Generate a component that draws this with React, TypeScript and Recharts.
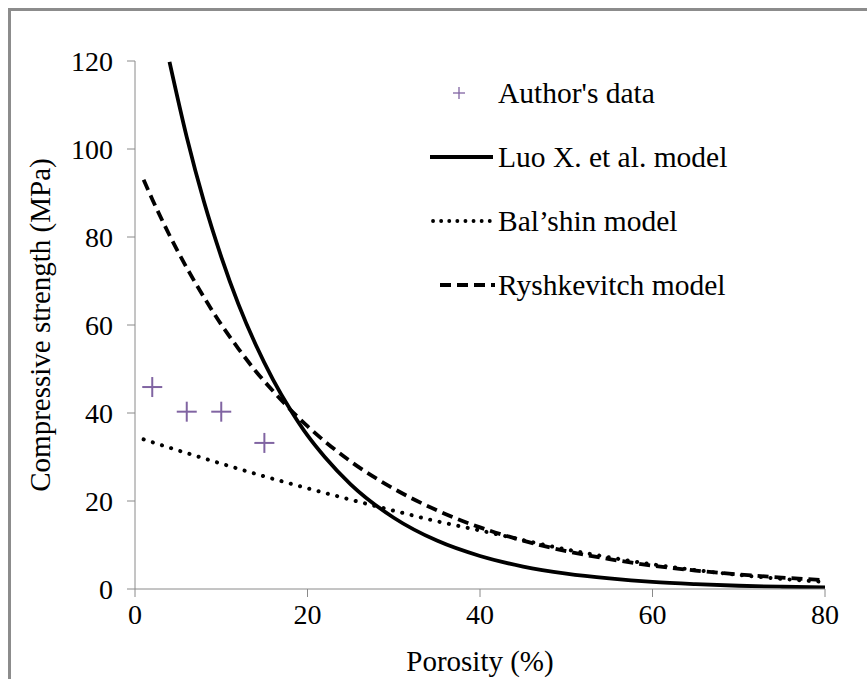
import {
  ComposedChart, Line, Scatter, XAxis, YAxis,
} from "recharts";

const porosityTicks = [0, 20, 40, 60, 80];
const strengthTicks = [0, 20, 40, 60, 80, 100, 120];

const authorX = [2, 6, 10, 15];
const authorY = [45.9, 40.3, 40.3, 33.2];

const luoX = [4, 6, 8, 10, 12, 14, 16, 18, 20, 22, 25, 30, 35, 40, 45, 50, 55, 60, 65, 70, 75, 80];
const luoY = [119.8, 102.7, 88.0, 75.5, 64.7, 55.5, 47.6, 40.8, 34.9, 30.0, 23.8, 16.2, 11.0, 7.5, 5.1, 3.5, 2.4, 1.6, 1.1, 0.74, 0.51, 0.34];

const balshinX = [1, 5, 10, 15, 20, 25, 30, 35, 40, 45, 50, 55, 60, 65, 70, 75, 80];
const balshinY = [34.0, 31.5, 28.5, 25.6, 22.9, 20.3, 17.8, 15.4, 13.3, 11.1, 9.0, 7.2, 5.6, 4.3, 3.2, 2.3, 1.6];

const ryshX = [1, 2, 4, 6, 8, 10, 12, 14, 16, 18, 20, 25, 30, 35, 40, 45, 50, 55, 60, 65, 70, 75, 80];
const ryshY = [93.0, 88.6, 80.4, 73.0, 66.3, 60.1, 54.6, 49.5, 45.0, 40.8, 37.0, 29.0, 22.8, 17.9, 14.0, 11.0, 8.6, 6.8, 5.3, 4.2, 3.3, 2.6, 2.0];

const toPoints = (xs: number[], ys: number[]) => xs.map((x, i) => ({ x, y: ys[i] }));

const authorData = toPoints(authorX, authorY);
const luoData = toPoints(luoX, luoY);
const balshinData = toPoints(balshinX, balshinY);
const ryshData = toPoints(ryshX, ryshY);

const FONT = "'Liberation Serif', 'Times New Roman', serif";
const AXIS = "#8a8a8a";
const PURPLE = "#8064a2";
const DASH = "11 6";
const DOTS = "0.1 9.5";

const Plus = (props: any) => {
  const { cx, cy } = props;
  return (
    <g>
      <line x1={cx - 10} y1={cy} x2={cx + 10} y2={cy} stroke={PURPLE} strokeWidth={2} />
      <line x1={cx} y1={cy - 10} x2={cx} y2={cy + 10} stroke={PURPLE} strokeWidth={2} />
    </g>
  );
};

const legendRows = [
  { name: "Author's data", kind: "plus" },
  { name: "Luo X. et al. model", kind: "solid" },
  { name: "Bal\u2019shin model", kind: "dot" },
  { name: "Ryshkevitch model", kind: "dash" },
];

// legend drawn on top of the plot, like the excel one
const LegendBox = () => (
  <svg width={360} height={250} style={{ position: "absolute", left: 420, top: 70, overflow: "visible" }}>
    {legendRows.map((r, i) => {
      const y = 23 + i * 64;
      return (
        <g key={r.name}>
          {r.kind === "plus" && (
            <g stroke={PURPLE} strokeWidth={1.3}>
              <line x1={33} y1={y} x2={45} y2={y} />
              <line x1={39} y1={y - 6} x2={39} y2={y + 6} />
            </g>
          )}
          {r.kind === "solid" && <line x1={10} y1={y} x2={73} y2={y} stroke="#000" strokeWidth={3.8} />}
          {r.kind === "dot" && (
            <line x1={13} y1={y} x2={70} y2={y} stroke="#000" strokeWidth={3.8} strokeDasharray="0.1 8" strokeLinecap="round" />
          )}
          {r.kind === "dash" && (
            <line x1={20} y1={y} x2={75} y2={y} stroke="#000" strokeWidth={3.8} strokeDasharray="11 6" />
          )}
          <text x={78} y={y} dy="0.35em" fontFamily={FONT} fontSize={29.5} fill="#000">{r.name}</text>
        </g>
      );
    })}
  </svg>
);

function App() {
  return (
    <div style={{ position: "absolute", left: 0, top: 0, width: 867, height: 679, background: "#fff", overflow: "hidden" }}>
      <div style={{ position: "absolute", left: 8, top: 8, width: 900, height: 700, borderTop: "3px solid #8c8c8c", borderLeft: "3px solid #8c8c8c" }} />
      <div style={{ position: "absolute", left: 0, top: 0 }}>
        <ComposedChart width={867} height={679} margin={{ top: 61, right: 42, bottom: 0, left: 0 }}>
          <XAxis
            type="number"
            dataKey="x"
            domain={[0, 80]}
            ticks={porosityTicks}
            allowDataOverflow
            height={90}
            stroke={AXIS}
            tickSize={8}
            tickMargin={7}
            tick={{ fill: "#000", fontSize: 28, fontFamily: FONT }}
            label={{ value: "Porosity (%)", position: "insideBottom", offset: 8, fill: "#000", fontSize: 29, fontFamily: FONT }}
          />
          <YAxis
            type="number"
            domain={[0, 120]}
            ticks={strengthTicks}
            allowDataOverflow
            width={135}
            stroke={AXIS}
            tickSize={8}
            tickMargin={14}
            tick={{ fill: "#000", fontSize: 28, fontFamily: FONT }}
            label={{ value: "Compressive strength (MPa)", angle: -90, position: "insideLeft", offset: 40, fill: "#000", fontSize: 29, fontFamily: FONT, style: { textAnchor: "middle" } }}
          />
          <Line data={ryshData} dataKey="y" type="monotone" stroke="#000" strokeWidth={3.8} strokeDasharray={DASH} dot={false} isAnimationActive={false} name="Ryshkevitch model" />
          <Line data={balshinData} dataKey="y" type="monotone" stroke="#000" strokeWidth={4} strokeDasharray={DOTS} strokeLinecap="round" dot={false} isAnimationActive={false} name="Bal'shin model" />
          <Line data={luoData} dataKey="y" type="monotone" stroke="#000" strokeWidth={3.8} dot={false} isAnimationActive={false} name="Luo X. et al. model" />
          <Scatter data={authorData} dataKey="y" shape={Plus} isAnimationActive={false} name="Author's data" />
        </ComposedChart>
      </div>
      <LegendBox />
    </div>
  );
}

export default App;
